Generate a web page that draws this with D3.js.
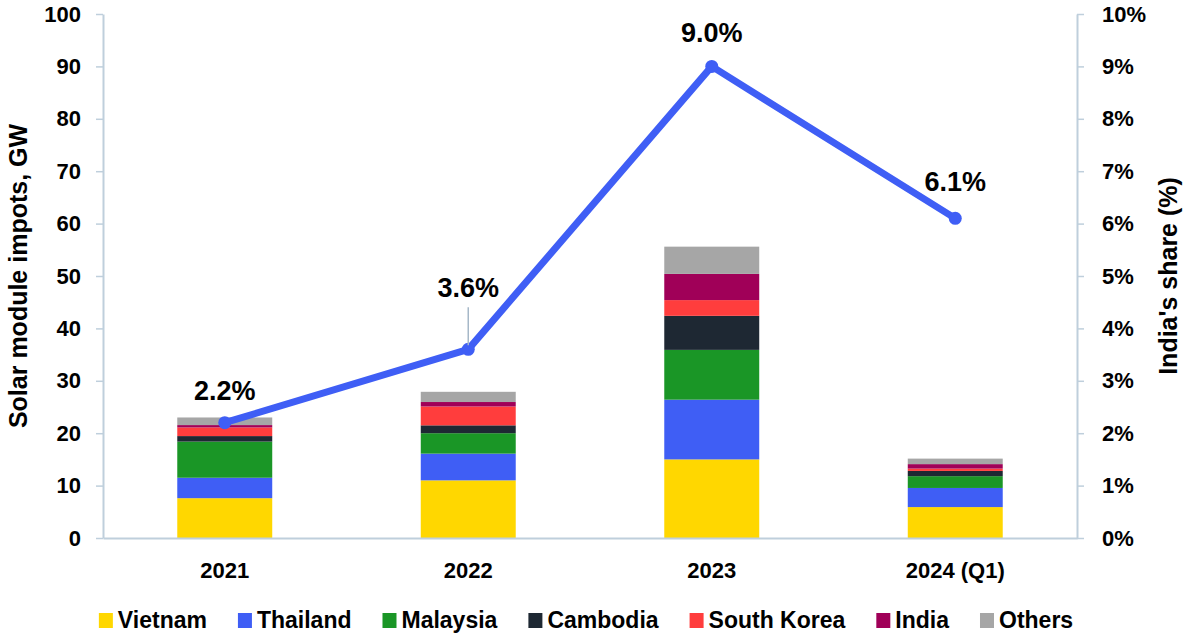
<!DOCTYPE html>
<html>
<head>
<meta charset="utf-8">
<script src="https://cdn.jsdelivr.net/npm/d3@7"></script>
<style>
  html, body { margin: 0; padding: 0; background: #fff; }
  svg { display: block; font-family: "Liberation Sans", Arial, sans-serif; font-weight: bold; }
</style>
</head>
<body>
<svg id="chart" width="1184" height="634"></svg>
<script>
// ---- data ----
const categories = ["2021", "2022", "2023", "2024 (Q1)"];
const vietnam    = [7.6, 11.0, 15.0, 5.9];
const thailand   = [3.9, 5.1, 11.4, 3.65];
const malaysia   = [6.9, 3.9, 9.5, 2.25];
const cambodia   = [1.05, 1.5, 6.5, 1.0];
const southKorea = [1.65, 3.6, 3.0, 0.45];
const india      = [0.45, 0.85, 5.0, 0.85];
const others     = [1.45, 1.95, 5.2, 1.05];
const indiaShare = [2.2, 3.6, 9.0, 6.1];
const seriesNames = ["Vietnam", "Thailand", "Malaysia", "Cambodia", "South Korea", "India", "Others"];
const leftTicks  = [0, 10, 20, 30, 40, 50, 60, 70, 80, 90, 100];
const rightTicks = [0, 1, 2, 3, 4, 5, 6, 7, 8, 9, 10];

(function () {
const seriesValues = [vietnam, thailand, malaysia, cambodia, southKorea, india, others];
const colors = ["#FFD700", "#3F5EF5", "#1A9626", "#1E2833", "#FF3D3D", "#A00058", "#A6A6A6"];
const axisColor = "#BFCFDC";
const FONT = '"Liberation Sans", Arial, sans-serif';

const svg = d3.select("#chart");
const pL = 103, pR = 1077, pT = 14, pB = 538;

const x = d3.scaleBand().domain(categories).range([pL, pR]).paddingInner(0.61).paddingOuter(0.305);
const y = d3.scaleLinear().domain([0, 100]).range([pB, pT]);
const y2 = d3.scaleLinear().domain([0, 10]).range([pB, pT]);

const table = categories.map((c, i) => {
  const row = { cat: c };
  seriesNames.forEach((s, k) => row[s] = seriesValues[k][i]);
  return row;
});
const stacked = d3.stack().keys(seriesNames)(table);

svg.append("g").selectAll("g").data(stacked).join("g")
  .attr("fill", (d, i) => colors[i])
  .selectAll("rect").data(d => d).join("rect")
  .attr("x", d => x(d.data.cat))
  .attr("width", x.bandwidth())
  .attr("y", d => y(d[1]))
  .attr("height", d => y(d[0]) - y(d[1]));

const gl = svg.append("g").attr("transform", `translate(${pL},0)`)
  .call(d3.axisLeft(y).tickValues(leftTicks).tickSize(7).tickSizeOuter(0).tickPadding(15));
gl.select(".domain").attr("stroke", axisColor).attr("stroke-width", 2);
gl.selectAll(".tick line").attr("stroke", axisColor).attr("stroke-width", 1.5);
gl.selectAll(".tick text").attr("fill", "#000").style("font-size", "22px").style("font-weight", "bold").style("font-family", FONT);

const gr = svg.append("g").attr("transform", `translate(${pR},0)`)
  .call(d3.axisRight(y2).tickValues(rightTicks).tickSize(7).tickSizeOuter(0).tickPadding(18).tickFormat(d => d + "%"));
gr.select(".domain").attr("stroke", axisColor).attr("stroke-width", 2);
gr.selectAll(".tick line").attr("stroke", axisColor).attr("stroke-width", 1.5);
gr.selectAll(".tick text").attr("fill", "#000").style("font-size", "22px").style("font-weight", "bold").style("font-family", FONT);

const gb = svg.append("g").attr("transform", `translate(0,${pB})`)
  .call(d3.axisBottom(x).tickSize(0).tickSizeOuter(0).tickPadding(24));
gb.select(".domain").attr("stroke", axisColor).attr("stroke-width", 2);
gb.selectAll(".tick text").attr("fill", "#000").style("font-size", "22px").style("font-weight", "bold").style("font-family", FONT);

svg.append("text")
  .attr("transform", `translate(18,${(pT + pB) / 2}) rotate(-90)`)
  .attr("text-anchor", "middle").attr("dy", "0.35em")
  .style("font-size", "25px").text("Solar module impots, GW");
svg.append("text")
  .attr("transform", `translate(1168,${(pT + pB) / 2}) rotate(-90)`)
  .attr("text-anchor", "middle").attr("dy", "0.35em")
  .style("font-size", "25px").text("India's share (%)");

const cx = d => x(d) + x.bandwidth() / 2;
const lineData = categories.map((c, i) => ({ c, v: indiaShare[i] }));
svg.append("path").datum(lineData)
  .attr("fill", "none").attr("stroke", "#3F5EF5").attr("stroke-width", 7)
  .attr("stroke-linejoin", "round")
  .attr("d", d3.line().x(d => cx(d.c)).y(d => y2(d.v)));
svg.append("g").selectAll("circle").data(lineData).join("circle")
  .attr("cx", d => cx(d.c)).attr("cy", d => y2(d.v)).attr("r", 6.5).attr("fill", "#3F5EF5");

const labelOffsets = [23, 52, 24, 27];
svg.append("line")
  .attr("x1", cx(categories[1])).attr("x2", cx(categories[1]))
  .attr("y1", y2(indiaShare[1]) - 42).attr("y2", y2(indiaShare[1]) - 4)
  .attr("stroke", "#A6B8C8").attr("stroke-width", 1.5);
svg.append("g").selectAll("text").data(lineData).join("text")
  .attr("x", d => cx(d.c))
  .attr("y", (d, i) => y2(d.v) - labelOffsets[i])
  .attr("text-anchor", "middle")
  .style("font-size", "27px")
  .text(d => d.v.toFixed(1) + "%");

const legend = svg.append("g");
let lx = 0;
seriesNames.forEach((s, i) => {
  const g = legend.append("g").attr("transform", `translate(${lx},0)`);
  g.append("rect").attr("x", 0).attr("y", -15).attr("width", 14).attr("height", 15).attr("fill", colors[i]);
  const t = g.append("text").attr("x", 19).attr("y", 0).style("font-size", "23px").text(s);
  lx += 19 + t.node().getComputedTextLength() + 31;
});
lx -= 31;
legend.attr("transform", `translate(${(94 + 1078) / 2 - lx / 2},628)`);
})();
</script>
</body>
</html>
